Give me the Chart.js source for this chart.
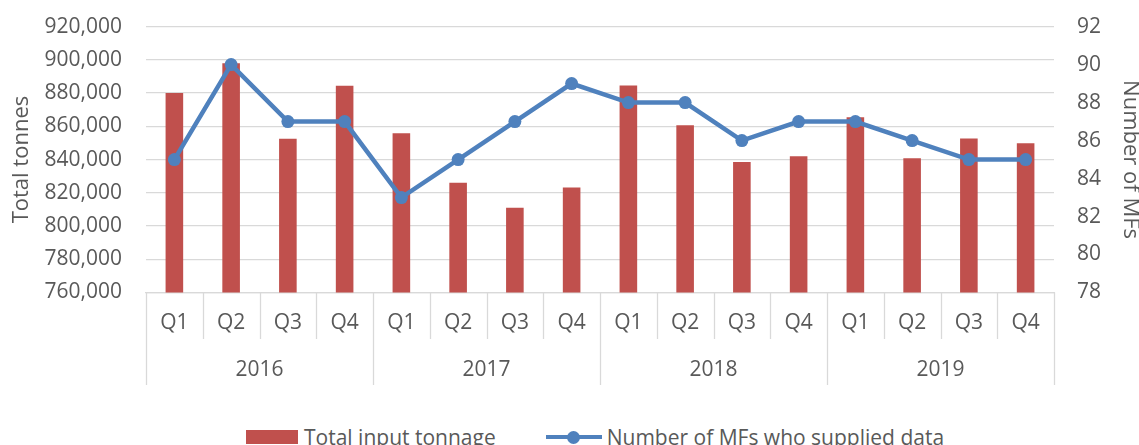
<!DOCTYPE html>
<html lang="en">
<head>
  <meta charset="UTF-8">
  <title>Total input tonnage</title>
  <script src="https://cdn.jsdelivr.net/npm/chart.js"></script>
  <style>
    body { margin: 0; background: #fff; overflow: hidden; font-family: "Open Sans", sans-serif; }
    .wrap { position: relative; width: 1139px; height: 445px; overflow: hidden; }
    /* canvas sobe 10px: o Chart.js reserva um minimo no topo */
    .chart-box { position: absolute; left: 0; top: -10px; width: 1139px; height: 405px; }
    #legend { position: absolute; left: 246px; top: 424px; display: flex; align-items: center; color: #595959; font-size: 21px; line-height: 26px; white-space: nowrap; }
    .item { display: flex; align-items: center; margin-right: 50px; }
    .box { width: 52px; height: 14px; margin-right: 6px; }
    .line { position: relative; width: 56px; height: 4.5px; margin-right: 5px; }
    .dot { position: absolute; left: 50%; top: 50%; width: 13px; height: 13px; margin: -6.5px; border-radius: 50%; }
  </style>
</head>
<body>
  <div class="wrap">
    <div class="chart-box"><canvas id="chart"></canvas></div>
    <div id="legend"></div>
  </div>

  <script>
    // dados
    const quarters = ['Q1', 'Q2', 'Q3', 'Q4', 'Q1', 'Q2', 'Q3', 'Q4', 'Q1', 'Q2', 'Q3', 'Q4', 'Q1', 'Q2', 'Q3', 'Q4'];
    const years = ['2016', '2017', '2018', '2019'];
    const tonnage = [880000, 898000, 852500, 884400, 855800, 826000, 811000, 823200, 884600, 860600, 838600, 842000, 865400, 840800, 852600, 849800];
    const mfCount = [85, 90, 87, 87, 83, 85, 87, 89, 88, 88, 86, 87, 87, 86, 85, 85];
    const tonnesTicks = [760000, 780000, 800000, 820000, 840000, 860000, 880000, 900000, 920000];
    const mfTicks = [78, 80, 82, 84, 86, 88, 90, 92];

    const red = '#C0504D';
    const blue = '#4F81BD';
    const textColor = '#595959';
    const lineColor = '#D9D9D9';
    const font = { family: '"Open Sans", sans-serif', size: 21 };

    // linhas separadoras do eixo de categorias (dois niveis)
    const separators = {
      id: 'separators',
      afterDraw(chart) {
        const x = chart.scales.x, x2 = chart.scales.x2;
        const ctx = chart.ctx;
        const step = x.width / quarters.length;
        ctx.save();
        ctx.strokeStyle = lineColor;
        ctx.lineWidth = 1.3;
        for (let i = 0; i <= quarters.length; i++) {
          const px = Math.round(x.left + i * step) + 0.5;
          ctx.beginPath();
          ctx.moveTo(px, chart.chartArea.bottom);
          ctx.lineTo(px, i % 4 === 0 ? x2.bottom : x.bottom);
          ctx.stroke();
        }
        ctx.restore();
      }
    };

    const chart = new Chart(document.getElementById('chart'), {
      type: 'bar',
      data: {
        labels: quarters,
        datasets: [
          {
            type: 'bar',
            label: 'Total input tonnage',
            data: tonnage,
            backgroundColor: red,
            barPercentage: 0.31,
            categoryPercentage: 1,
            yAxisID: 'y',
            order: 1
          },
          {
            type: 'line',
            label: 'Number of MFs who supplied data',
            data: mfCount,
            borderColor: blue,
            backgroundColor: blue,
            borderWidth: 4.5,
            pointRadius: 6.5,
            pointBackgroundColor: blue,
            pointBorderWidth: 0,
            tension: 0,
            yAxisID: 'y1',
            order: 0
          }
        ]
      },
      options: {
        responsive: true,
        maintainAspectRatio: false,
        animation: false,
        layout: { padding: { top: 15, bottom: 10 } },
        plugins: {
          legend: { display: false },
          tooltip: { enabled: false }
        },
        scales: {
          x: {
            type: 'category',
            position: 'bottom',
            weight: 0,
            offset: true,
            grid: { display: false, drawTicks: false },
            border: { display: true, color: lineColor, width: 1.3 },
            ticks: { color: textColor, font: font, padding: 18, maxRotation: 0, autoSkip: false },
            afterFit(scale) { scale.height = 46.5; }
          },
          x2: {
            type: 'category',
            labels: years,
            position: 'bottom',
            weight: 1,
            offset: true,
            grid: { display: false, drawTicks: false },
            border: { display: false },
            ticks: { color: textColor, font: font, padding: 18, maxRotation: 0 },
            afterFit(scale) { scale.height = 46; }
          },
          y: {
            position: 'left',
            min: tonnesTicks[0],
            max: tonnesTicks[tonnesTicks.length - 1],
            afterBuildTicks(scale) { scale.ticks = tonnesTicks.map(v => ({ value: v })); },
            grid: { color: lineColor, lineWidth: 1.3, drawTicks: false },
            border: { display: false },
            ticks: {
              color: textColor, font: font, padding: 24,
              callback: v => v.toLocaleString('en-US')
            },
            title: {
              display: true, text: 'Total tonnes', color: textColor,
              font: { family: '"Open Sans", sans-serif', size: 22 },
              padding: { top: 9, bottom: 0 }
            },
            afterFit(scale) { scale.width = 146; }
          },
          y1: {
            position: 'right',
            min: mfTicks[0],
            max: mfTicks[mfTicks.length - 1],
            afterBuildTicks(scale) { scale.ticks = mfTicks.map(v => ({ value: v })); },
            grid: { display: false, drawTicks: false },
            border: { display: false },
            ticks: { color: textColor, font: font, padding: 23 },
            title: {
              display: true, text: 'Number of MFs', color: textColor,
              font: { family: '"Open Sans", sans-serif', size: 22 },
              padding: { top: -4, bottom: 0 }
            },
            afterFit(scale) { scale.width = 85; }
          }
        }
      },
      plugins: [separators]
    });

    // legenda em HTML, montada a partir dos datasets
    const legend = document.getElementById('legend');
    chart.data.datasets.forEach(ds => {
      const item = document.createElement('div');
      item.className = 'item';
      const mark = document.createElement('span');
      if (ds.type === 'line') {
        mark.className = 'line';
        mark.style.background = ds.borderColor;
        const dot = document.createElement('span');
        dot.className = 'dot';
        dot.style.background = ds.pointBackgroundColor;
        mark.appendChild(dot);
      } else {
        mark.className = 'box';
        mark.style.background = ds.backgroundColor;
      }
      const txt = document.createElement('span');
      txt.textContent = ds.label;
      item.appendChild(mark);
      item.appendChild(txt);
      legend.appendChild(item);
    });
  </script>
</body>
</html>
